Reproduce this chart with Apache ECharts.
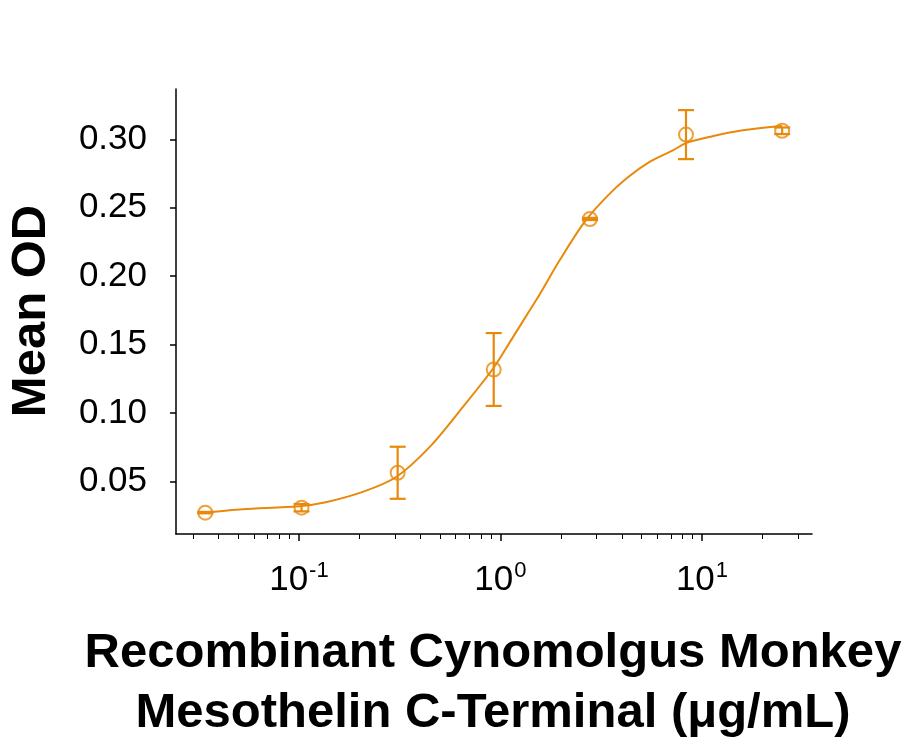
<!DOCTYPE html>
<html>
<head>
<meta charset="utf-8">
<script src="https://cdn.jsdelivr.net/npm/echarts@6/dist/echarts.min.js"></script>
<style>
  html, body { margin: 0; padding: 0; background: #fff; }
  #chart { width: 912px; height: 742px; }
</style>
</head>
<body>
<div id="chart"></div>
<script>
// measured points (ug/mL) with error
var conc = [0.0343, 0.103, 0.309, 0.926, 2.78, 8.33, 25];
var meanOD = [0.0274, 0.0310, 0.0565, 0.1319, 0.2418, 0.3034, 0.3062];
var errOD = [0.0005, 0.0027, 0.019, 0.0266, 0.0008, 0.0179, 0.0024];

// fitted curve
var curveConc = [0.0342, 0.0526, 0.1, 0.136, 0.209, 0.305, 0.447, 0.653, 0.921, 1.158,
  1.40, 1.57, 1.97, 2.62, 3.37, 4.23, 5.52, 7.21, 8.40, 11.4, 15.4, 22.6, 25];
var curveOD = [0.0275, 0.0299, 0.0321, 0.0350, 0.0427, 0.0536, 0.0756, 0.1048, 0.1328, 0.1559,
  0.1753, 0.1870, 0.2118, 0.2398, 0.2581, 0.2715, 0.2836, 0.2921, 0.2975, 0.3024, 0.3062, 0.3092, 0.3097];

// ticks
var yTicks = [0.05, 0.10, 0.15, 0.20, 0.25, 0.30];
var xMajor = [0.1, 1, 10];
var xMinor = [0.03, 0.04, 0.05, 0.06, 0.07, 0.08, 0.09,
  0.2, 0.3, 0.4, 0.5, 0.6, 0.7, 0.8, 0.9,
  2, 3, 4, 5, 6, 7, 8, 9, 20, 30];

var orange = '#E8890C';
var lg = function (v) { return Math.log10(v); };

var xMin = -1.61, xMax = 1.546;

var chart = echarts.init(document.getElementById('chart'));

var option = {
  backgroundColor: '#fff',
  animation: false,
  grid: { left: 176, right: 100, top: 89, bottom: 208 },
  xAxis: [{
    type: 'value',
    min: xMin,
    max: xMax,
    splitLine: { show: false },
    axisLine: { onZero: false, lineStyle: { color: '#000', width: 1.5 } },
    axisTick: { customValues: xMajor.map(lg), length: 7, lineStyle: { color: '#000', width: 1.5 } },
    axisLabel: {
      customValues: xMajor.map(lg),
      margin: 26,
      color: '#000',
      formatter: function (v) {
        return '{b|10}{s|' + Math.round(v) + '}';
      },
      rich: {
        b: { fontFamily: 'Liberation Sans', fontSize: 35, color: '#000', lineHeight: 40 },
        s: { fontFamily: 'Liberation Sans', fontSize: 22, color: '#000', verticalAlign: 'top', lineHeight: 40, padding: [0, 0, 12, 1] }
      }
    }
  }, {
    type: 'value',
    min: xMin,
    max: xMax,
    position: 'bottom',
    splitLine: { show: false },
    axisLine: { show: false, onZero: false },
    axisLabel: { show: false },
    axisTick: { customValues: xMinor.map(lg), length: 5, lineStyle: { color: '#000', width: 1 } }
  }],
  yAxis: {
    type: 'value',
    min: 0.0118,
    max: 0.3367,
    splitLine: { show: false },
    axisLine: { show: true, onZero: false, lineStyle: { color: '#000', width: 1.5 } },
    axisTick: { show: true, customValues: yTicks, length: 6, lineStyle: { color: '#000', width: 1.5 } },
    axisLabel: {
      customValues: yTicks,
      margin: 29,
      color: '#000',
      fontFamily: 'Liberation Sans',
      fontSize: 35,
      formatter: function (v) { return v.toFixed(2); }
    }
  },
  graphic: [{
    type: 'text',
    x: 31,
    y: 311,
    rotation: Math.PI / 2,
    style: {
      text: 'Mean OD',
      fontFamily: 'Liberation Sans',
      fontWeight: 'bold',
      fontSize: 49,
      fill: '#000',
      align: 'center',
      verticalAlign: 'middle'
    }
  }, {
    type: 'text',
    x: 493,
    y: 683,
    style: {
      text: 'Recombinant Cynomolgus Monkey\nMesothelin C-Terminal (\u03bcg/mL)',
      fontFamily: 'Liberation Sans',
      fontWeight: 'bold',
      fontSize: 49,
      lineHeight: 60,
      fill: '#000',
      align: 'center',
      verticalAlign: 'middle'
    }
  }],
  series: [{
    name: 'fit',
    type: 'line',
    smooth: 0.3,
    symbol: 'none',
    lineStyle: { color: orange, width: 2 },
    data: curveConc.map(function (c, i) { return [lg(c), curveOD[i]]; }),
    z: 2
  }, {
    name: 'error',
    type: 'custom',
    renderItem: function (params, api) {
      var x = api.value(0);
      var top = api.coord([x, api.value(2)]);
      var bot = api.coord([x, api.value(3)]);
      var half = 8;
      var st = { stroke: orange, lineWidth: 2.2 };
      return {
        type: 'group',
        children: [
          { type: 'line', shape: { x1: top[0], y1: top[1], x2: bot[0], y2: bot[1] }, style: st },
          { type: 'line', shape: { x1: top[0] - half, y1: top[1], x2: top[0] + half, y2: top[1] }, style: st },
          { type: 'line', shape: { x1: bot[0] - half, y1: bot[1], x2: bot[0] + half, y2: bot[1] }, style: st }
        ]
      };
    },
    encode: { x: 0, y: [1, 2, 3] },
    data: conc.map(function (c, i) {
      return [lg(c), meanOD[i], meanOD[i] + errOD[i], meanOD[i] - errOD[i]];
    }),
    z: 3
  }, {
    name: 'mean',
    type: 'scatter',
    symbol: 'circle',
    symbolSize: 14,
    itemStyle: { color: 'rgba(0,0,0,0)', borderColor: orange, borderWidth: 2 },
    data: conc.map(function (c, i) { return [lg(c), meanOD[i]]; }),
    z: 4
  }]
};

chart.setOption(option);
</script>
</body>
</html>
